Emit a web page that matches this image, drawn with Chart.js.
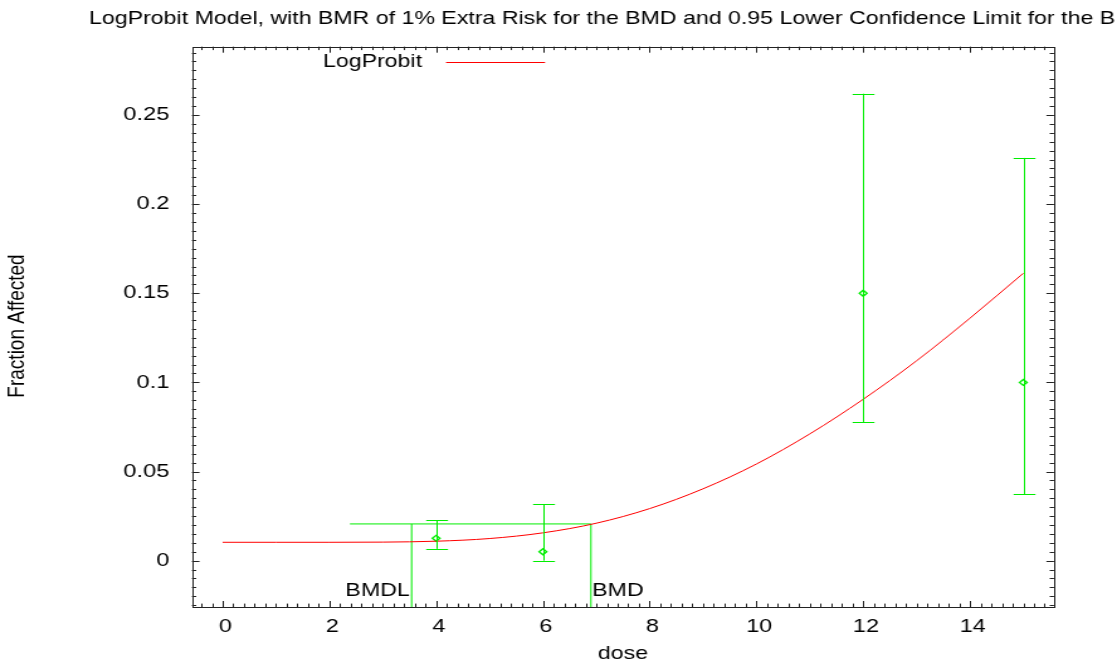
<!DOCTYPE html>
<html>
<head>
<meta charset="utf-8">
<script src="https://cdn.jsdelivr.net/npm/chart.js@4/dist/chart.umd.min.js"></script>
<style>
  html, body { margin: 0; padding: 0; background: #fff; }
</style>
</head>
<body>
<!-- the plot is drawn narrower and stretched sideways, like the source image -->
<canvas id="plot" width="888" height="666" style="display:block;width:1117px;height:666px"></canvas>
<script>
// --- data ---
const doses = [0, 1, 2, 3, 4, 5, 6, 7, 8, 9, 10, 11, 12, 13, 14, 15];
const fitted = [0.0103, 0.0103, 0.0103, 0.0104, 0.0109, 0.0124, 0.0156, 0.0210,
                0.0292, 0.0403, 0.0542, 0.0711, 0.0905, 0.1121, 0.1360, 0.1612];
const obsDose = [4, 6, 12, 15];
const obsFrac = [0.0125, 0.005, 0.15, 0.1];
const ciLow = [0.0066, 0.0, 0.0778, 0.0374];
const ciHigh = [0.0227, 0.0316, 0.2619, 0.2259];
const xTicks = [0, 2, 4, 6, 8, 10, 12, 14];
const yTicks = [0, 0.05, 0.1, 0.15, 0.2, 0.25];
const bmdl = 3.54;
const bmd = 6.90;
const bmrLevel = 0.0206;
const bmrFrom = 2.385;

const titleText = 'LogProbit Model, with BMR of 1% Extra Risk for the BMD and 0.95 Lower Confidence Limit for the BMDL';
const xMin = -0.575, xMax = 15.575;
const yMin = -0.026, yMax = 0.2883;

const FAMILY = '"Liberation Sans", Arial, Helvetica, sans-serif';
const FONT = '18.4px ' + FAMILY;
const GREEN = 'rgb(0,238,0)';
const RED = '#ff0000';

const line = (ctx, x1, y1, x2, y2) => {
  ctx.beginPath();
  ctx.moveTo(x1, y1);
  ctx.lineTo(x2, y2);
  ctx.stroke();
};

// gnuplot-ish decorations: frame, inward ticks on every side, titles, legend, error bars
const decorations = {
  id: 'decorations',
  beforeDraw(chart) {
    const {ctx, width, height} = chart;
    ctx.save();
    ctx.fillStyle = '#fff';
    ctx.fillRect(0, 0, width, height);
    ctx.restore();
  },
  afterDatasetsDraw(chart) {
    const {ctx, scales: {x, y}} = chart;
    ctx.save();
    ctx.strokeStyle = GREEN;
    ctx.lineWidth = 1;
    obsDose.forEach((d, i) => {
      const px = Math.round(x.getPixelForValue(d)) + 0.5;
      const lo = y.getPixelForValue(ciLow[i]);
      const hi = y.getPixelForValue(ciHigh[i]);
      line(ctx, px, lo, px, hi);
      line(ctx, px - 8.7, Math.round(lo) + 0.5, px + 8.7, Math.round(lo) + 0.5);
      line(ctx, px - 8.7, Math.round(hi) + 0.5, px + 8.7, Math.round(hi) + 0.5);
    });
    ctx.restore();
  },
  afterDraw(chart) {
    const {ctx, chartArea: ca, scales: {x, y}} = chart;
    ctx.save();

    // ticks
    ctx.strokeStyle = '#222';
    ctx.lineWidth = 1;
    for (let k = -2; k <= 78; k++) {
      const v = k * 0.2;
      if (v < xMin || v > xMax) continue;
      const major = Math.abs(v / 2 - Math.round(v / 2)) < 1e-6;
      const len = major ? 6 : 3.4;
      const px = Math.round(x.getPixelForValue(v)) + 0.5;
      line(ctx, px, ca.bottom, px, ca.bottom - len);
      line(ctx, px, ca.top, px, ca.top + len);
    }
    for (let k = -5; k <= 58; k++) {
      const v = k * 0.005;
      if (v < yMin || v > yMax) continue;
      const major = k % 10 === 0;
      const len = major ? 6 : 3.4;
      const py = Math.round(y.getPixelForValue(v)) + 0.5;
      line(ctx, ca.left, py, ca.left + len, py);
      line(ctx, ca.right, py, ca.right - len, py);
    }

    // frame
    ctx.strokeStyle = '#222';
    ctx.strokeRect(Math.round(ca.left) + 0.5, Math.round(ca.top) + 0.5,
                   Math.round(ca.right - ca.left), Math.round(ca.bottom - ca.top));

    ctx.fillStyle = '#000';
    ctx.font = FONT;
    ctx.textBaseline = 'middle';

    // title (runs off the right edge, as in the source)
    ctx.textAlign = 'left';
    ctx.fillText(titleText, 70.8, 18.5);

    // legend
    ctx.textAlign = 'right';
    ctx.fillText('LogProbit', 335.5, 62);
    ctx.strokeStyle = RED;
    line(ctx, 354.6, 62.5, 433.3, 62.5);

    // BMD / BMDL labels
    ctx.textAlign = 'right';
    ctx.fillText('BMDL', x.getPixelForValue(bmdl) - 1.5, ca.bottom - 16);
    ctx.textAlign = 'left';
    ctx.fillText('BMD', x.getPixelForValue(bmd) + 1, ca.bottom - 16);

    // axis titles
    ctx.textAlign = 'center';
    ctx.fillText('dose', (ca.left + ca.right) / 2, 654);
    ctx.font = '19px ' + FAMILY;
    ctx.translate(14, 326);
    ctx.rotate(-Math.PI / 2);
    ctx.fillText('Fraction Affected', 0, 0);

    ctx.restore();
  }
};

const fitPoints = doses.map((d, i) => ({x: d, y: fitted[i]}));
const obsPoints = obsDose.map((d, i) => ({x: d, y: obsFrac[i]}));
const flatLine = (pts) => ({
  data: pts, borderColor: GREEN, borderWidth: 1, pointRadius: 0, tension: 0, fill: false
});

new Chart(document.getElementById('plot'), {
  type: 'line',
  data: {
    datasets: [
      {
        label: 'LogProbit',
        data: fitPoints,
        borderColor: RED,
        borderWidth: 1,
        pointRadius: 0,
        cubicInterpolationMode: 'monotone',
        fill: false
      },
      flatLine([{x: bmrFrom, y: bmrLevel}, {x: bmd, y: bmrLevel}]),
      flatLine([{x: bmdl, y: yMin}, {x: bmdl, y: bmrLevel}]),
      flatLine([{x: bmd, y: yMin}, {x: bmd, y: bmrLevel}]),
      {
        label: 'data',
        data: obsPoints,
        showLine: false,
        pointStyle: 'rectRot',
        pointRadius: 3,
        pointBorderWidth: 1.4,
        pointBorderColor: GREEN,
        pointBackgroundColor: 'rgba(0,0,0,0)'
      }
    ]
  },
  options: {
    responsive: false,
    animation: false,
    devicePixelRatio: 1,
    layout: {padding: {left: 0, right: 50.1, top: 46.7, bottom: 0}},
    plugins: {legend: {display: false}, tooltip: {enabled: false}, title: {display: false}},
    scales: {
      x: {
        type: 'linear',
        min: xMin,
        max: xMax,
        grid: {display: false, drawTicks: false},
        border: {display: false},
        ticks: {
          font: {family: FAMILY, size: 18.6},
          color: '#000',
          padding: 9,
          labelOffset: 2.2,
          autoSkip: false,
          maxRotation: 0,
          callback: v => String(v)
        },
        afterBuildTicks: s => { s.ticks = xTicks.map(v => ({value: v})); },
        afterFit: s => { s.height = 59; }
      },
      y: {
        type: 'linear',
        min: yMin,
        max: yMax,
        grid: {display: false, drawTicks: false},
        border: {display: false},
        ticks: {
          font: {family: FAMILY, size: 18.8},
          color: '#000',
          padding: 18,
          autoSkip: false,
          callback: v => String(Math.round(v * 100) / 100)
        },
        afterBuildTicks: s => { s.ticks = yTicks.map(v => ({value: v})); },
        afterFit: s => { s.width = 152.6; }
      }
    }
  },
  plugins: [decorations]
});
</script>
</body>
</html>
